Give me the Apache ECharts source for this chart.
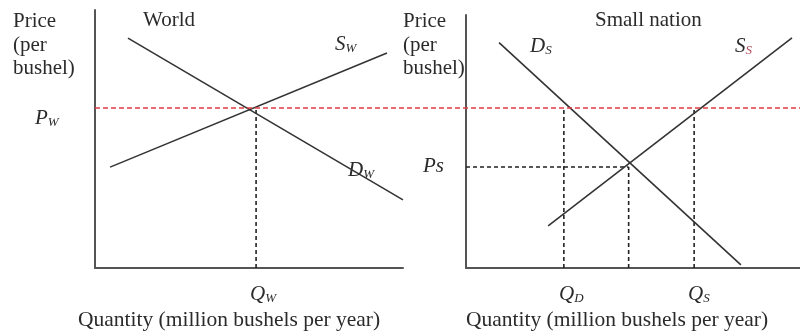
<!DOCTYPE html>
<html>
<head>
<meta charset="utf-8">
<script src="https://cdn.jsdelivr.net/npm/echarts@6/dist/echarts.min.js"></script>
<style>
html, body { margin: 0; padding: 0; background: #fff; }
#chart { width: 800px; height: 335px; }
</style>
</head>
<body>
<div id="chart"></div>
<script>
// both panels: quantity 0..100 across, price 0..100 up (same price scale)
var worldDemand = [[10.7, 89.1], [100, 26.4]];
var worldSupply = [[4.9, 39.1], [94.8, 83.3]];
var worldPrice = 62;
var worldQty = 52.3;

var nationDemand = [[9.9, 87.3], [82.3, 1.2]];
var nationSupply = [[24.6, 16.3], [97.6, 89.1]];
var nationPrice = 39.1;
var nationQty = 48.7;
var qtyDemanded = 29.3;
var qtySupplied = 68.3;

var serif = '"Liberation Serif", "DejaVu Serif", serif';
var ink = '#2b2b2b';

var myChart = echarts.init(document.getElementById('chart'));

function axisPair(idx, yMax, visible) {
    var line = { show: visible, onZero: false, lineStyle: { color: '#555', width: 2 } };
    return {
        x: { type: 'value', gridIndex: idx, min: 0, max: idx == 2 ? 1 : 100, axisLine: line,
             axisTick: { show: false }, axisLabel: { show: false }, splitLine: { show: false } },
        y: { type: 'value', gridIndex: idx, min: 0, max: yMax, axisLine: line,
             axisTick: { show: false }, axisLabel: { show: false }, splitLine: { show: false } }
    };
}
var a0 = axisPair(0, 100, true), a1 = axisPair(1, 98, true), a2 = axisPair(2, 100, false);

function curve(data, gi) {
    return { type: 'line', xAxisIndex: gi, yAxisIndex: gi, data: data, symbol: 'none', silent: true,
             lineStyle: { color: '#333', width: 1.6 }, z: 3 };
}
function dashed(data, gi) {
    return { type: 'line', xAxisIndex: gi, yAxisIndex: gi, data: data, symbol: 'none', silent: true,
             lineStyle: { color: '#222', width: 1.6, type: [4, 3] }, z: 2 };
}

function label(x, y, main, sub, subColor) {
    return {
        type: 'text', left: x, top: y,
        style: {
            text: '{m|' + main + '}' + (sub ? '{s|' + sub + '}' : ''),
            rich: {
                m: { fontFamily: serif, fontStyle: 'italic', fontSize: 21, fill: ink, color: ink },
                s: { fontFamily: serif, fontStyle: 'italic', fontSize: 13, fill: subColor || ink,
                     color: subColor || ink, padding: [8, 0, 0, 0] }
            }
        }
    };
}
function plain(x, y, txt, size) {
    return { type: 'text', left: x, top: y,
             style: { text: txt, font: (size || 21) + 'px ' + serif, fill: ink, lineHeight: 23.5 } };
}

var option = {
    animation: false,
    grid: [
        { left: 95, top: 10, width: 308, height: 258 },
        { left: 466, top: 15, width: 334, height: 253 },
        { left: 95, top: 10, width: 705, height: 258 }
    ],
    xAxis: [a0.x, a1.x, a2.x],
    yAxis: [a0.y, a1.y, a2.y],
    series: [
        curve(worldDemand, 0),
        curve(worldSupply, 0),
        dashed([[worldQty, 0], [worldQty, worldPrice]], 0),
        curve(nationDemand, 1),
        curve(nationSupply, 1),
        dashed([[qtyDemanded, 0], [qtyDemanded, worldPrice]], 1),
        dashed([[qtySupplied, 0], [qtySupplied, worldPrice]], 1),
        dashed([[nationQty, 0], [nationQty, nationPrice]], 1),
        dashed([[0, nationPrice], [nationQty, nationPrice]], 1),
        { type: 'line', xAxisIndex: 2, yAxisIndex: 2, data: [[0, worldPrice], [1, worldPrice]],
          symbol: 'none', silent: true, z: 4,
          lineStyle: { color: '#e23a44', width: 1.5, type: [5, 3] } }
    ],
    graphic: [
        plain(13, 10, 'Price\n(per\nbushel)'),
        plain(403, 10, 'Price\n(per\nbushel)'),
        plain(143, 9, 'World'),
        plain(595, 9, 'Small nation'),
        plain(78, 309, 'Quantity (million bushels per year)', 21.5),
        plain(466, 309, 'Quantity (million bushels per year)', 21.5),
        label(335, 34, 'S', 'W'),
        label(348, 160, 'D', 'W'),
        label(35, 108, 'P', 'W'),
        label(250, 284, 'Q', 'W'),
        label(530, 36, 'D', 'S'),
        label(735, 36, 'S', 'S', '#b04a5a'),
        label(423, 156, 'Ps'),
        label(559, 284, 'Q', 'D'),
        label(688, 284, 'Q', 'S')
    ]
};
myChart.setOption(option);
</script>
</body>
</html>
